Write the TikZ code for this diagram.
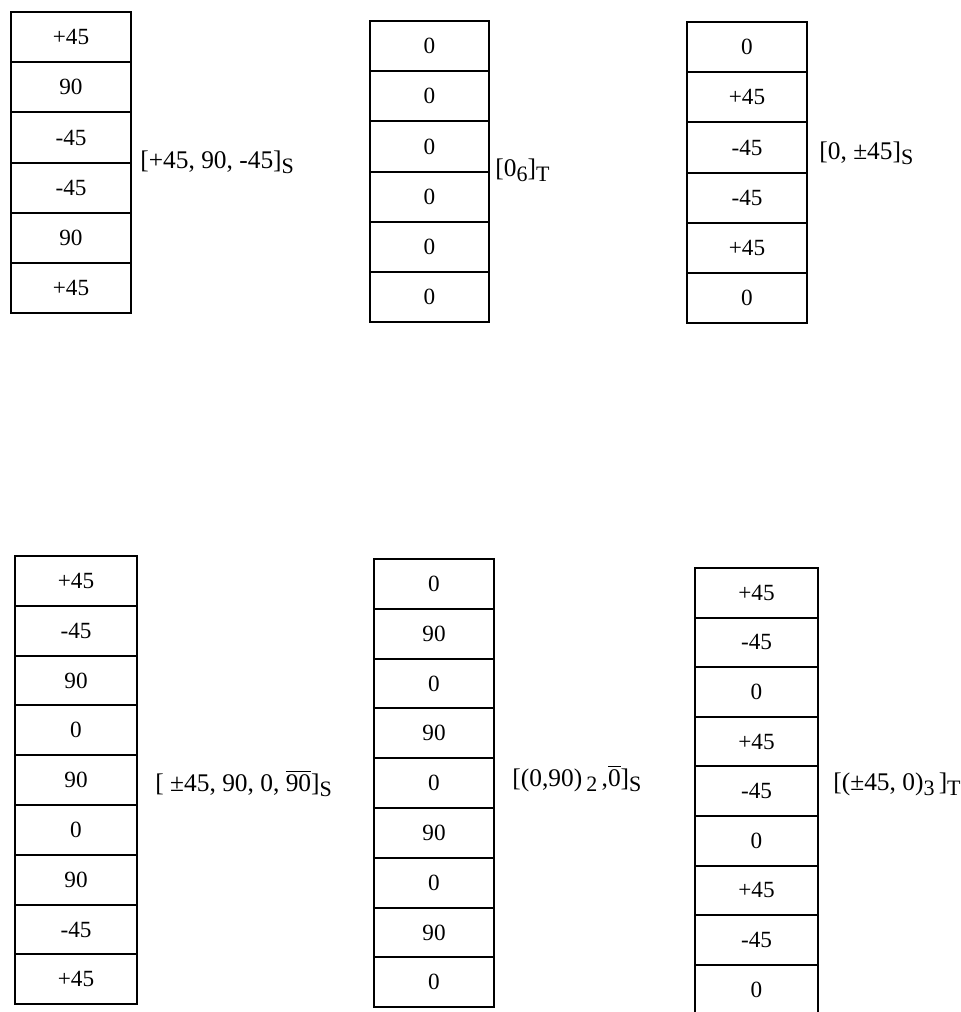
\documentclass[tikz,border=0pt]{standalone}
\usepackage{fontspec}
\setmainfont{Liberation Serif}
\newcommand\lowsub[1]{\raisebox{-0.45ex}{\fontsize{11}{13}\selectfont #1}}
\tikzset{
  every node/.style={font=\fontsize{11.6}{13}\selectfont},
  ply/.style={draw,line width=1pt,inner sep=0pt,anchor=north west,
    minimum width=60pt,minimum height=25.1pt},
  layup/.style={anchor=base west,inner sep=0pt,font=\fontsize{12.7}{15}\selectfont}
}
\begin{document}
\begin{tikzpicture}[x=0.5pt,y=-0.5pt]
\useasboundingbox (0,0) rectangle (961,1012);
% top row
\foreach \ang [count=\i] in {+45,90,-45,-45,90,+45}
  \node[ply] (a\i) at (10,{11+(\i-1)*50.2}) {\ang};
\foreach \ang [count=\i] in {0,0,0,0,0,0}
  \node[ply,minimum width=59.5pt] (b\i) at (369,{20+(\i-1)*50.2}) {\ang};
\foreach \ang [count=\i] in {0,+45,-45,-45,+45,0}
  \node[ply] (c\i) at (686,{21+(\i-1)*50.2}) {\ang};
\node[layup] (laba) at (140,168) {[+45, 90, -45]\lowsub{S}};
\node[layup] (labb) at (495,176) {[0\lowsub{6}]\lowsub{T}};
\node[layup] (labc) at (819,159) {[0, ±45]\lowsub{S}};
% bottom row
\foreach \ang [count=\i] in {+45,-45,90,0,90,0,90,-45,+45}
  \node[ply,minimum width=61pt,minimum height=24.9pt] (d\i) at (14,{555+(\i-1)*49.8}) {\ang};
\foreach \ang [count=\i] in {0,90,0,90,0,90,0,90,0}
  \node[ply,minimum height=24.9pt] (e\i) at (373,{558+(\i-1)*49.8}) {\ang};
\foreach \ang [count=\i] in {+45,-45,0,+45,-45,0,+45,-45,0}
  \node[ply,minimum width=61.5pt,minimum height=24.8pt] (f\i) at (694,{567+(\i-1)*49.6}) {\ang};
\node[layup] (labd) at (155,791) {[ ±45, 90, 0, $\overline{\mbox{90}}$]\lowsub{S}};
\node[layup] (labe) at (512,786) {[(0,90)\,\lowsub{2}\,,$\overline{\mbox{0}}$]\lowsub{S}};
\node[layup] (labf) at (833,790) {[(±45, 0)\lowsub{3}\,]\lowsub{T}};
\end{tikzpicture}
\end{document}
